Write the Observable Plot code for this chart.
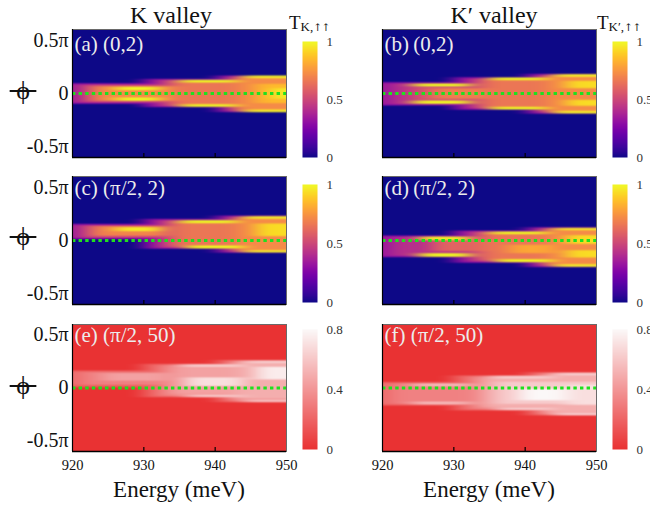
<!DOCTYPE html>
<html><head><meta charset="utf-8">
<script src="https://cdn.jsdelivr.net/npm/d3@7"></script>
<script src="https://cdn.jsdelivr.net/npm/@observablehq/plot@0.6"></script>
<style>
body{margin:0;background:#fff;}
#root{position:relative;width:650px;height:508px;overflow:hidden;font-family:"Liberation Serif","Times New Roman",serif;color:#111;}
.lab{position:absolute;white-space:pre;}
.abs{position:absolute;}
.arr{font-family:"DejaVu Serif","DejaVu Sans",serif;font-size:10.5px;letter-spacing:-0.5px;}
.sub{font-size:13px;position:relative;top:2px;}
</style></head><body><div id="root"></div>
<script>
// ---------- data (energy in meV, phi in units of π) ----------
const energyTicks = [920, 930, 940, 950];
const phiTicks = [-0.5, 0, 0.5];
const phiTickLabels = ["-0.5π", "0", "0.5π"];
const cbTicksT = [0, 0.5, 1];
const cbTicksE = [0, 0.4, 0.8];

// streak bands: [E start, E end, phi low, phi high, value]
const bandsA = [
 [917,932,-0.097,0.097,0.3],[921,932,-0.085,0.085,0.5],[923,934,-0.07,0.07,0.72],
 [926,932,0.03,0.062,1.0],[926,932,-0.068,-0.036,1.0],
 [930,953,-0.128,0.138,0.3],[932,953,-0.118,0.128,0.5],[934,953,-0.1,0.11,0.66],
 [935,943,0.104,0.128,1.0],[935,943,-0.124,-0.1,1.0],
 [940,953,-0.175,0.169,0.3],[942,953,-0.165,0.16,0.55],[943,953,-0.15,0.145,0.72],
 [944,953,0.144,0.168,0.97],[944,953,-0.174,-0.15,0.97],
 [946,953,-0.09,0.09,0.85],[948,953,-0.05,0.05,0.97]
];
const bandsB = [
 [917,932,-0.112,0.106,0.3],[921,932,-0.1,0.095,0.42],[924,932,-0.06,0.06,0.55],
 [927,934,-0.05,0.05,0.68],
 [924,932,0.066,0.094,1.0],[924,932,-0.096,-0.066,1.0],
 [930,953,-0.153,0.153,0.3],[932,953,-0.14,0.14,0.5],[934,953,-0.125,0.125,0.66],
 [935,943,0.126,0.15,1.0],[935,943,-0.15,-0.124,1.0],
 [940,953,-0.19,0.184,0.3],[942,953,-0.178,0.172,0.55],[943,953,-0.165,0.16,0.72],
 [944,953,0.156,0.18,0.97],[944,953,-0.189,-0.163,0.97],
 [946,953,0.05,0.12,0.93],[946,953,-0.115,-0.06,0.93]
];
const bandsC = [
 [917,932,0.012,0.156,0.3],[921,932,0.025,0.145,0.5],[923,933,0.045,0.135,0.7],
 [926,932,0.088,0.126,0.97],
 [930,953,-0.078,0.203,0.3],[932,953,-0.068,0.19,0.5],[934,953,-0.05,0.175,0.66],
 [935,943,0.164,0.19,1.0],[936,944,-0.074,-0.048,1.0],
 [940,953,-0.116,0.234,0.3],[942,953,-0.105,0.222,0.55],[943,953,-0.09,0.21,0.72],
 [944,953,0.204,0.228,0.97],[944,953,-0.114,-0.09,0.97],
 [946,953,0.04,0.16,0.93]
];
const bandsD = [
 [917,932,-0.156,0.047,0.3],[921,932,-0.145,0.035,0.42],[927,934,-0.1,0.0,0.6],
 [925,932,0.003,0.037,0.97],[925,932,-0.152,-0.12,1.0],
 [930,953,-0.21,0.094,0.3],[932,953,-0.198,0.084,0.5],[934,953,-0.18,0.07,0.66],
 [935,943,0.058,0.084,1.0],[936,944,-0.202,-0.176,1.0],
 [940,953,-0.25,0.125,0.3],[942,953,-0.238,0.115,0.55],[943,953,-0.222,0.1,0.72],
 [944,953,0.096,0.12,0.97],[944,953,-0.247,-0.221,0.97],
 [946,953,-0.03,0.05,0.93],[946,953,-0.16,-0.09,0.93],[938,944,-0.12,-0.04,0.8]
];
const bandsE = [
 [917,932,0.008,0.165,0.2],[921,932,0.03,0.15,0.32],[924,933,0.07,0.14,0.45],
 [930,953,-0.087,0.228,0.2],[932,953,-0.075,0.215,0.35],[934,953,-0.055,0.195,0.45],
 [935,944,0.196,0.224,0.62],[936,944,-0.089,-0.061,0.6],[936,944,0.02,0.1,0.7],
 [940,953,-0.134,0.266,0.2],[942,953,-0.12,0.255,0.38],[943,953,-0.1,0.24,0.5],
 [944,953,0.234,0.26,0.62],[944,953,-0.134,-0.108,0.57],
 [946,953,0.08,0.2,0.75]
];
const bandsF = [
 [917,932,-0.165,0.055,0.2],[921,932,-0.15,0.045,0.32],
 [924,932,0.016,0.045,0.54],[924,932,-0.157,-0.128,0.54],
 [930,953,-0.212,0.118,0.2],[932,953,-0.2,0.108,0.35],[934,953,-0.18,0.09,0.5],
 [935,944,0.089,0.115,0.62],[936,944,-0.209,-0.183,0.62],
 [936,950,-0.15,0.06,0.62],[939,946,-0.115,-0.01,0.8],
 [940,953,-0.26,0.149,0.2],[942,953,-0.248,0.138,0.38],[943,953,-0.23,0.12,0.5],
 [944,953,0.118,0.144,0.62],[944,953,-0.259,-0.233,0.62],
 [946,953,-0.16,0.03,0.7]
];

// ---------- layout ----------
const colLeft = [72, 382], frameW = 214;
const rowTop = [29, 176, 324], rowH = [128, 128, 127];
const cbLeft = [302, 612], cbW = 15;
const cbTop = [41, 184, 329], cbBottom = [157, 302, 449];
const labelDy = [7, 4, 3];

const panels = [
 {id:"a", col:0, row:0, bands:bandsA, label:"(a) (0,2)", max:1, ticks:cbTicksT},
 {id:"b", col:1, row:0, bands:bandsB, label:"(b)\u2009(0,2)", max:1, ticks:cbTicksT},
 {id:"c", col:0, row:1, bands:bandsC, label:"(c) (π/2, 2)", max:1, ticks:cbTicksT},
 {id:"d", col:1, row:1, bands:bandsD, label:"(d)\u2009(π/2, 2)", max:1, ticks:cbTicksT},
 {id:"e", col:0, row:2, bands:bandsE, label:"(e) (π/2, 50)", max:0.8, ticks:cbTicksE},
 {id:"f", col:1, row:2, bands:bandsF, label:"(f) (π/2, 50)", max:0.8, ticks:cbTicksE}
];

const root = document.getElementById("root");
const SERIF = "Liberation Serif, Times New Roman, serif";

function colorScale(max) {
  return max === 1 ? {type:"linear", scheme:"plasma", domain:[0, 1]}
                   : {type:"linear", domain:[0, 0.8], range:["#e93233", "#fbf8f8"], interpolate:"rgb"};
}
// transmission: the strongest band covering (E, phi)
function bandValue(bands, e, phi) {
  let v = 0;
  for (const [e1, e2, p1, p2, t] of bands) if (e >= e1 && e <= e2 && phi >= p1 && phi <= p2 && t > v) v = t;
  return v;
}
function place(el, left, top, w) {
  const d = document.createElement("div");
  d.className = "abs";
  d.style.left = left + "px"; d.style.top = top + "px"; d.style.width = w + "px";
  d.appendChild(el); root.appendChild(d);
}
function addText(html, x, baseline, fs, opts = {}) {
  const d = document.createElement("div");
  d.className = "lab";
  d.style.left = x + "px";
  d.style.top = (baseline - 0.8375 * fs) + "px";
  d.style.fontSize = fs + "px";
  d.style.lineHeight = fs + "px";
  if (opts.anchor === "middle") d.style.transform = "translateX(-50%)";
  d.innerHTML = html;
  Object.assign(d.style, opts.style || {});
  root.appendChild(d);
}

panels.forEach(p => {
  const ml = p.col === 0 ? 72 : 12, mr = 8, mt = 4, mb = p.row === 2 ? 30 : 4;
  const h = rowH[p.row];
  const W = ml + frameW + mr, H = mt + h + mb;
  const marks = [
    Plot.raster({x1:920, x2:950, y1:-0.6, y2:0.6, width:64, height:384,
      fill:(x, y) => bandValue(p.bands, x, y), blur:2, imageRendering:"auto"}),
    Plot.ruleY([0], {x1:920, x2:950.4, stroke:"#1fe01f", strokeWidth:3.2, strokeDasharray:"3.4 3.2"}),
    Plot.frame({stroke:"#6a6a6a"}),
    Plot.ruleX([920], {stroke:"#000", strokeWidth:1.2}),
    Plot.ruleY([-0.6], {stroke:"#000", strokeWidth:1.6}),
    Plot.ruleX(energyTicks.slice(1, -1), {stroke:"#000", strokeWidth:1.2, insetTop:h - 4}),
    Plot.text([p.label], {frameAnchor:"top-left", text:d => d, dx:2, dy:labelDy[p.row], textAnchor:"start",
      lineAnchor:"top", fill:"#ececec", fontSize:21, fontFamily:SERIF})
  ];
  if (p.col === 0) marks.push(Plot.axisY({ticks:phiTicks, tickFormat:d => phiTickLabels[phiTicks.indexOf(d)],
      tickSize:0, tickPadding:4, fontSize:20, fontFamily:SERIF, color:"#111", label:null}));
  if (p.row === 2) marks.push(Plot.axisX({ticks:energyTicks, tickFormat:d => String(d), tickSize:0, tickPadding:8,
      fontSize:14.5, fontFamily:SERIF, color:"#111", label:null}));
  const svg = Plot.plot({
    width:W, height:H, marginLeft:ml, marginRight:mr, marginTop:mt, marginBottom:mb,
    style:{background:"transparent", overflow:"visible", maxWidth:"none", fontFamily:SERIF},
    x:{domain:[920, 950], axis:null}, y:{domain:[-0.6, 0.6], axis:null},
    color:colorScale(p.max),
    marks
  });
  place(svg, colLeft[p.col] - ml, rowTop[p.row] - mt, W);

  // colour bar
  const cmt = 8, cmb = 8, cmr = 45;
  const cbH = cbBottom[p.row] - cbTop[p.row];
  const cb = Plot.plot({
    width:cbW + cmr, height:cbH + cmt + cmb, marginLeft:0, marginRight:cmr, marginTop:cmt, marginBottom:cmb,
    style:{background:"transparent", overflow:"visible", maxWidth:"none", fontFamily:SERIF},
    x:{domain:[0, 1], axis:null}, y:{domain:[0, p.max], axis:null},
    color:colorScale(p.max),
    marks:[
      Plot.raster({x1:0, x2:1, y1:0, y2:p.max, fill:(x, y) => y}),
      Plot.axisY({anchor:"right", ticks:p.ticks, tickFormat:d => String(d), tickSize:0, tickPadding:9,
        fontSize:13, fontFamily:SERIF, color:"#333", label:null})
    ]
  });
  place(cb, cbLeft[p.col], cbTop[p.row] - cmt, cbW + cmr);
});

// titles and axis labels
addText("K valley", 171, 23, 24, {anchor:"middle"});
addText("K\u2032 valley", 494, 23, 24, {anchor:"middle"});
addText("Energy (meV)", 179, 497, 23, {anchor:"middle"});
addText("Energy (meV)", 489, 497, 23, {anchor:"middle"});
addText('T<span class="sub">K,<span class="arr">↑↑</span></span>', 289, 29, 19);
addText('T<span class="sub">K\u2032,<span class="arr">↑↑</span></span>', 597, 29, 19);
[94, 240, 389].forEach(yc => {
  addText("\u00a0ϕ\u00a0", 23, yc + 5.5, 26, {anchor:"middle", style:{textDecoration:"line-through", textDecorationThickness:"2px"}});
});
</script></body></html>
